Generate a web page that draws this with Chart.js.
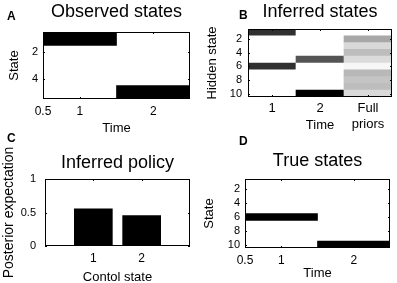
<!DOCTYPE html>
<html>
<head>
<meta charset="utf-8">
<script src="https://cdn.jsdelivr.net/npm/chart.js@4.4.1/dist/chart.umd.min.js"></script>
<style>
  html, body { margin: 0; padding: 0; background: #fff; }
  #page { position: relative; width: 397px; height: 283px; overflow: hidden; font-family: "Liberation Sans", Arial, sans-serif; }
  #page canvas { position: absolute; }
  .tag { position: absolute; font-weight: bold; font-size: 12px; line-height: 1; color: #000; }
</style>
</head>
<body>
<div id="page">
  <canvas id="observedCanvas" width="198" height="141" style="left:0;top:0"></canvas>
  <canvas id="inferredCanvas" width="199" height="141" style="left:198px;top:0"></canvas>
  <canvas id="policyCanvas" width="198" height="142" style="left:0;top:141px"></canvas>
  <canvas id="trueCanvas" width="199" height="142" style="left:198px;top:141px"></canvas>
  <div class="tag" style="left:7px;top:10px">A</div>
  <div class="tag" style="left:239px;top:9px">B</div>
  <div class="tag" style="left:7px;top:132px">C</div>
  <div class="tag" style="left:239px;top:135px">D</div>
</div>
<script>
// ---- data ----
// A: observed states
const obsStates = ['1', '2', '3', '4', '5'];
const obsTimes = [1, 2];
const obsSequence = [1, 5];
const timeTicks = [0.5, 1, 2];

// B: inferred states (posterior per hidden state, one list per column)
const hiddenStates = ['1', '2', '3', '4', '5', '6', '7', '8', '9', '10'];
const inferredColumns = ['1', '2', 'Full priors'];
const inferredT1 = [0.81, 0, 0, 0, 0, 0.81, 0, 0, 0, 0];
const inferredT2 = [0, 0, 0, 0, 0.67, 0, 0, 0, 0, 1];
const fullPriors = [0, 0.34, 0.15, 0.26, 0.14, 0.03, 0.28, 0.23, 0.26, 0.15];

// C: inferred policy
const controlStates = [1, 2];
const policyExpectation = [0.56, 0.46];
const policyTicks = [0, 0.5, 1];

// D: true states
const trueTimes = [1, 2];
const trueSequence = [6, 10];

// ---- helpers ----
Chart.defaults.font.family = '"Liberation Sans", Arial, Helvetica, sans-serif';
Chart.defaults.color = '#000';
Chart.defaults.animation = false;

const grayFor = p => {
  const g = Math.round(255 * (1 - p));
  return 'rgb(' + g + ',' + g + ',' + g + ')';
};

// matlab style box with small inward ticks
const framePlugin = {
  id: 'frame',
  afterDraw(chart) {
    const {ctx, chartArea: a} = chart;
    const xs = chart.scales.x, ys = chart.scales.y;
    const tk = 2;
    ctx.save();
    ctx.strokeStyle = '#000';
    ctx.lineWidth = 1;
    ctx.beginPath();
    xs.ticks.forEach((t, i) => {
      const px = Math.round(xs.getPixelForTick(i)) + 0.5;
      ctx.moveTo(px, a.bottom); ctx.lineTo(px, a.bottom - tk);
      ctx.moveTo(px, a.top); ctx.lineTo(px, a.top + tk);
    });
    ys.ticks.forEach((t, i) => {
      if (t.label === '' || t.label == null) return;
      const py = Math.round(ys.getPixelForTick(i)) + 0.5;
      ctx.moveTo(a.left, py); ctx.lineTo(a.left + tk, py);
      ctx.moveTo(a.right, py); ctx.lineTo(a.right - tk, py);
    });
    ctx.stroke();
    ctx.strokeRect(a.left + 0.5, a.top + 0.5, a.right - a.left - 1, a.bottom - a.top - 1);
    ctx.restore();
  }
};

// top axis only carries the panel title, centred over the plot
function titleAxis(text, height, padTop) {
  return {
    type: 'linear', position: 'top', min: 0, max: 1,
    grid: {display: false, drawTicks: false}, border: {display: false},
    ticks: {display: false},
    title: {display: true, text: text, font: {size: 18}, padding: {top: padTop, bottom: 0}},
    afterFit: s => { s.height = height; }
  };
}

function heatCells(columns, rows) {
  // columns: list of value lists, one per x position (1..n)
  const cells = [], colors = [];
  columns.forEach((col, c) => {
    col.forEach((p, r) => {
      cells.push({y: rows[r], x: [c + 0.5, c + 1.5]});
      colors.push(grayFor(p));
    });
  });
  return {cells, colors};
}

function seqCells(times, seq) {
  return times.map((t, i) => ({y: String(seq[i]), x: [t - 0.5, t + 0.5]}));
}

function heatChart(id, o) {
  return new Chart(document.getElementById(id), {
    type: 'bar',
    data: {
      datasets: [{
        data: o.cells,
        backgroundColor: o.colors,
        borderWidth: 0,
        barPercentage: 1,
        categoryPercentage: 1,
        xAxisID: 'x', yAxisID: 'y'
      }]
    },
    options: {
      indexAxis: 'y',
      responsive: false,
      layout: {padding: {left: 0, top: 0, right: o.padRight, bottom: 0}},
      plugins: {legend: {display: false}, tooltip: {enabled: false}},
      scales: {
        x: {
          type: 'linear', min: o.xMin, max: o.xMax, offset: false,
          grid: {display: false, drawTicks: false}, border: {display: false},
          afterBuildTicks: s => { s.ticks = o.xTicks.map(v => ({value: v})); },
          ticks: {padding: o.xTickPad, font: {size: o.xTickSize || 12}, callback: o.xLabel || (v => String(v))},
          title: {display: true, text: 'Time', font: {size: 13}, padding: {top: 0, bottom: o.xTitlePad}},
          afterFit: s => { s.height = o.xHeight; }
        },
        y: {
          type: 'category', labels: o.rows, offset: true,
          grid: {display: false, drawTicks: false}, border: {display: false},
          ticks: {
            padding: o.yTickPad, font: {size: 11}, autoSkip: false,
            callback: function (v) { const l = this.getLabelForValue(v); return Number(l) % 2 === 0 ? l : ''; }
          },
          title: {display: true, text: o.yTitle, font: {size: 13}, padding: {top: o.yTitlePad, bottom: 0}},
          afterFit: s => { s.width = o.yWidth; }
        },
        top: titleAxis(o.title, o.topHeight, o.titlePad)
      }
    },
    plugins: [framePlugin]
  });
}

// ---- A ----
heatChart('observedCanvas', {
  cells: seqCells(obsTimes, obsSequence),
  colors: obsSequence.map(() => grayFor(1)),
  rows: obsStates, xMin: 0.5, xMax: 2.5, xTicks: timeTicks,
  title: 'Observed states', yTitle: 'State',
  padRight: 8, yWidth: 43, xHeight: 42, topHeight: 32,
  titlePad: 1, xTickPad: 5, xTitlePad: 5, yTickPad: 5, yTitlePad: 7
});

// ---- B ----
const inferred = heatCells([inferredT1, inferredT2, fullPriors], hiddenStates);
heatChart('inferredCanvas', {
  cells: inferred.cells, colors: inferred.colors,
  rows: hiddenStates, xMin: 0.5, xMax: 3.5, xTicks: [1, 2, 3], xTickSize: 13,
  xLabel: v => { const l = inferredColumns[v - 1]; return l && l.indexOf(' ') > 0 ? l.split(' ') : l; },
  title: 'Inferred states', yTitle: 'Hidden state',
  padRight: 5, yWidth: 50, xHeight: 44, topHeight: 29,
  titlePad: 1, xTickPad: 4, xTitlePad: 8, yTickPad: 6, yTitlePad: 7
});

// ---- C ----
new Chart(document.getElementById('policyCanvas'), {
  type: 'bar',
  data: {
    datasets: [{
      data: controlStates.map((c, i) => ({x: c, y: policyExpectation[i]})),
      backgroundColor: '#000',
      borderWidth: 0,
      barPercentage: 0.8,
      categoryPercentage: 1,
      xAxisID: 'x', yAxisID: 'y'
    }]
  },
  options: {
    responsive: false,
    layout: {padding: {left: 0, top: 0, right: 8, bottom: 0}},
    plugins: {legend: {display: false}, tooltip: {enabled: false}},
    scales: {
      x: {
        type: 'linear', min: 0, max: 3, offset: false,
        grid: {display: false, drawTicks: false, offset: false}, border: {display: false},
        afterBuildTicks: s => { s.ticks = controlStates.map(v => ({value: v})); },
        ticks: {padding: 5, font: {size: 12}, callback: v => String(v)},
        title: {display: true, text: 'Contol state', font: {size: 13}, padding: {top: 0, bottom: -2}},
        afterFit: s => { s.height = 37; }
      },
      y: {
        type: 'linear', min: 0, max: 1,
        grid: {display: false, drawTicks: false}, border: {display: false},
        afterBuildTicks: s => { s.ticks = policyTicks.map(v => ({value: v})); },
        ticks: {padding: 9, font: {size: 11}, callback: v => String(v)},
        title: {display: true, text: 'Posterior expectation', font: {size: 14}, padding: {top: 1, bottom: 0}},
        afterFit: s => { s.width = 45; }
      },
      top: titleAxis('Inferred policy', 38, 11)
    }
  },
  plugins: [framePlugin]
});

// ---- D ----
heatChart('trueCanvas', {
  cells: seqCells(trueTimes, trueSequence),
  colors: trueSequence.map(() => grayFor(1)),
  rows: hiddenStates, xMin: 0.5, xMax: 2.5, xTicks: timeTicks,
  title: 'True states', yTitle: 'State',
  padRight: 7, yWidth: 47, xHeight: 35, topHeight: 38,
  titlePad: 9, xTickPad: 5, xTitlePad: 2, yTickPad: 5, yTitlePad: 4
});
</script>
</body>
</html>
